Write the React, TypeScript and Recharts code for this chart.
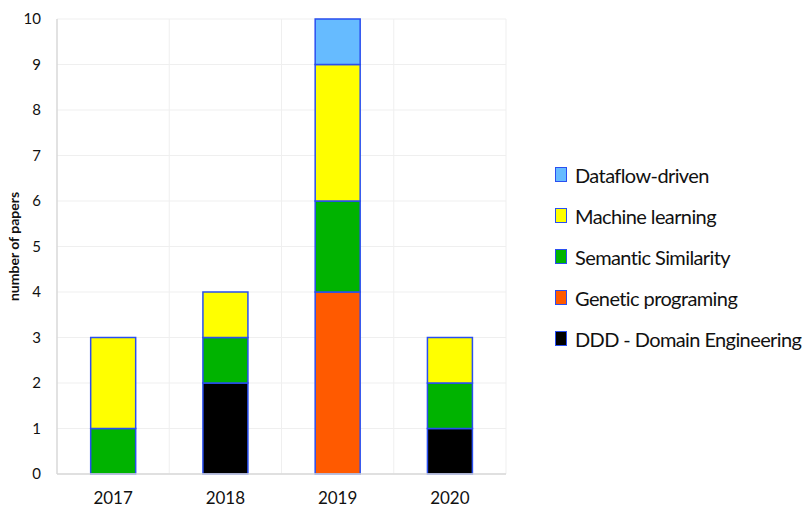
import { BarChart, Bar, XAxis, YAxis, CartesianGrid, Label } from 'recharts';

const years = ['2017', '2018', '2019', '2020'];
const ddd = [0, 2, 0, 1];
const genetic = [0, 0, 4, 0];
const semantic = [1, 1, 2, 1];
const machine = [2, 1, 3, 1];
const dataflow = [0, 0, 1, 0];
const yTicks = [0, 1, 2, 3, 4, 5, 6, 7, 8, 9, 10];

// stacking order, bottom first
const series = [
  { key: 'ddd', name: 'DDD - Domain Engineering', color: '#000000', values: ddd },
  { key: 'genetic', name: 'Genetic programing', color: '#ff5a00', values: genetic },
  { key: 'semantic', name: 'Semantic Similarity', color: '#00b300', values: semantic },
  { key: 'machine', name: 'Machine learning', color: '#ffff00', values: machine },
  { key: 'dataflow', name: 'Dataflow-driven', color: '#66bbff', values: dataflow },
];

const data = years.map((year, i) => {
  const row: Record<string, string | number> = { year };
  series.forEach(s => { row[s.key] = s.values[i]; });
  return row;
});

const font = 'Lato, "Open Sans", sans-serif';
const edge = '#2a4ff0';

function LegendBox() {
  return (
    <div style={{ position: 'absolute', left: 555, top: 154, fontFamily: font, fontSize: 20, letterSpacing: -0.6, color: '#111' }}>
      {[...series].reverse().map(s => (
        <div key={s.key} style={{ display: 'flex', alignItems: 'center', height: 41, whiteSpace: 'nowrap' }}>
          <span style={{ flexShrink: 0, width: 12, height: 15, background: s.color, border: `1.5px solid ${edge}`, marginRight: 8, boxSizing: 'border-box' }} />
          {s.name}
        </div>
      ))}
    </div>
  );
}

export default function App() {
  return (
    <div style={{ position: 'absolute', left: 0, top: 0, width: 810, height: 519, background: '#fff' }}>
      <BarChart width={810} height={519} data={data} barCategoryGap="30%"
        margin={{ top: 19, right: 304, bottom: 0, left: 0 }}>
        <CartesianGrid stroke="#efefef"
          verticalCoordinatesGenerator={({ offset }: any) =>
            years.map((_, i) => offset.left + ((i + 1) * offset.width) / years.length)} />
        <XAxis dataKey="year" height={45} tickLine={false} tickMargin={12}
          axisLine={{ stroke: '#d9d9d9', strokeWidth: 1.5 }}
          tick={{ fontFamily: font, fontSize: 17, fill: '#111' }} />
        <YAxis width={57} domain={[0, 10]} ticks={yTicks} interval={0} tickLine={false} tickMargin={10}
          axisLine={{ stroke: '#d9d9d9', strokeWidth: 1.5 }}
          tick={{ fontFamily: font, fontSize: 15, fill: '#111' }}>
          <Label value="number of papers" angle={-90} position="insideLeft" offset={14}
            style={{ fontFamily: font, fontSize: 14, fontWeight: 700, fill: '#111', textAnchor: 'middle' }} />
        </YAxis>
        {series.map(s => (
          <Bar key={s.key} dataKey={s.key} name={s.name} stackId="a" fill={s.color}
            stroke={edge} strokeWidth={1.5} isAnimationActive={false} />
        ))}
      </BarChart>
      <LegendBox />
    </div>
  );
}
